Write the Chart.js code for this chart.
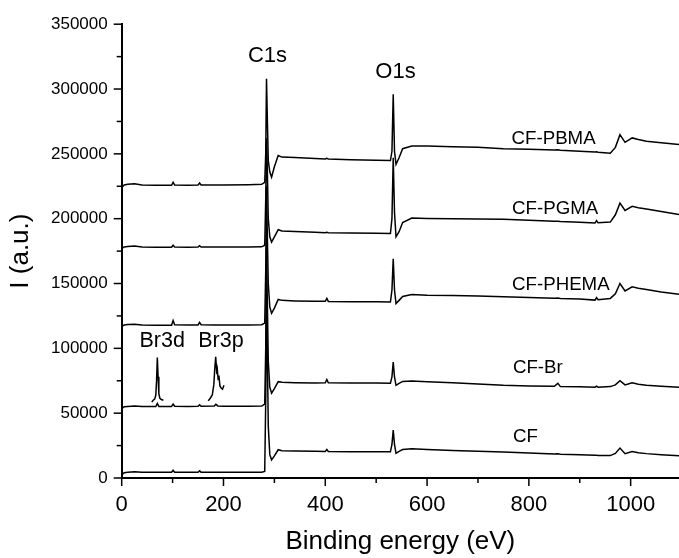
<!DOCTYPE html>
<html><head><meta charset="utf-8">
<script src="https://cdn.jsdelivr.net/npm/chart.js@4"></script>
<style>html,body{margin:0;padding:0;background:#fff}canvas{display:block}</style>
</head><body>
<canvas id="c" width="679" height="558" style="width:679px;height:558px"></canvas>
<script>
// Binding energy sampling (eV), shared by the five survey spectra
const energy = [0,5,12,25,40,67,70,73,98,101,
  104,130,150,153,156,182,185,189,200,250,
  275,281,283,284.5,286,288,291,294.5,300,307.5,
  315,340,380,400,403,406,450,500,528,531,
  533.5,536,539,545,552,570,600,650,700,750,
  800,850,857,862,900,930,933,936,960,970,
  979,989,1003,1015,1031,1060,1095];

const cfPBMA = [224000,226000,226500,227000,226000,225800,225800,225800,225800,228000,
  226000,225800,226000,227500,226000,226000,226000,226000,226000,226200,
  226500,228000,250000,308000,280000,245000,236000,232000,240000,248700,
  247500,247200,246500,246000,246500,246000,245500,245000,244800,252000,
  296000,252000,242000,247000,254000,256000,256000,255500,255000,254000,
  253500,253000,253200,252800,252000,251500,251600,251300,250500,255000,
  264800,258900,262300,261000,259700,258500,257200];

const cfPGMA = [177000,178200,178500,179000,178200,178000,178000,178000,178000,179500,
  178200,178000,178200,179200,178200,178200,178200,178200,178200,178200,
  178300,179500,215000,262000,240000,200000,186000,182000,186000,191500,
  190500,190200,189500,189200,189500,189100,189000,188700,188500,200000,
  247000,205000,186000,190000,197000,200500,200200,200000,199700,199500,
  198800,198000,198100,197800,197300,196600,198500,196800,197400,203000,
  212000,206400,209500,208500,207500,205500,203300];

const cfPHEMA = [117000,118000,118300,118500,118000,117900,117900,117900,117900,121500,
  118200,118000,118000,120000,118200,118000,118000,118000,118000,118000,
  118200,119500,160000,225000,190000,150000,132000,127000,131000,137700,
  137000,136600,136300,136300,138500,136200,136000,135900,135800,145000,
  169000,145000,134500,137000,140000,141500,141000,140700,140400,139700,
  139200,138700,138800,138400,138000,137200,139200,137500,138500,142000,
  150000,144300,147400,146400,145400,143500,141800];

const cfBr = [53500,55000,55200,55500,55100,55100,57500,55200,55200,57000,
  55300,55200,55300,56500,55300,55500,56800,55600,55400,55400,
  55500,57000,100000,180000,140000,90000,70000,65400,69000,74300,
  73800,73500,73300,73500,76000,73400,73300,73200,73100,78000,
  89500,78000,71500,73000,74500,74800,74300,73500,72500,71500,
  71000,70700,73000,70500,70300,70000,70800,70000,70500,71800,
  75100,71800,73500,72300,71500,70800,70000];

const cfPlain = [2500,4000,4500,4800,4500,4400,4500,4400,4400,6000,
  4500,4400,4400,5500,4500,4400,4400,4400,4400,4500,
  4400,5000,60000,140000,100000,40000,18000,14000,17000,21800,
  21000,20800,20600,20500,22000,20400,20300,20200,20200,26000,
  37000,26000,19000,20500,22000,22500,22000,21200,20600,20000,
  19300,18600,18700,18400,17900,17500,17600,17400,17300,19000,
  23100,18700,20500,19500,18800,18000,17200];

// Magnified Br insets drawn above the CF-Br spectrum
const br3dEnergy = [59,62,65,67,68.5,70,71.5,73,75,78,82];
const br3dValues = [58500,60000,61000,64000,75000,93000,78000,65000,61500,60500,60000];
const br3pEnergy = [170,174,178,181,183,184.7,186,187,188,189.5,191,193,195,198,201];
const br3pValues = [59500,61500,64000,72000,85000,93500,86000,80000,83000,76000,79000,71000,69500,68500,71500];

// Tick labels
const xTickValues = [0,200,400,600,800,1000];
const yTickValues = [0,50000,100000,150000,200000,250000,300000,350000];

const sampleNames = ['CF-PBMA','CF-PGMA','CF-PHEMA','CF-Br','CF'];
const peakNames = ['C1s','O1s','Br3d','Br3p'];

const FONT = '"Liberation Sans", Arial, Helvetica, sans-serif';

function pts(xs, ys){ return xs.map((x,i)=>({x:x, y:ys[i]})); }
function ds(data){ return {data:data, showLine:true, borderColor:'#000', borderWidth:1.5, pointRadius:0, fill:false, tension:0}; }

// annotation placement (data coordinates)
const textSpots = [
  {t:peakNames[0], x:286.4, y:320500, align:'center', size:22},
  {t:peakNames[1], x:538, y:308200, align:'center', size:22},
  {t:peakNames[2], x:79.5, y:101200, align:'center', size:21.5},
  {t:peakNames[3], x:195, y:101200, align:'center', size:21.5},
  {t:sampleNames[0], x:766, y:257700, align:'left', size:18.7},
  {t:sampleNames[1], x:767, y:203800, align:'left', size:18.7},
  {t:sampleNames[2], x:767, y:144800, align:'left', size:18.7},
  {t:sampleNames[3], x:768.7, y:80800, align:'left', size:18.7},
  {t:sampleNames[4], x:768.7, y:28150, align:'left', size:18.7}
];

const decor = {
  id:'decor',
  afterDraw(chart){
    const ctx = chart.ctx, xs = chart.scales.x, ys = chart.scales.y, a = chart.chartArea;
    ctx.save();
    ctx.strokeStyle = '#000';
    ctx.lineWidth = 1.5;
    for (let v = 0; v <= xs.max; v += 100) {
      const px = xs.getPixelForValue(v);
      const len = (v % 200 === 0) ? 8 : 5;
      ctx.beginPath(); ctx.moveTo(px, a.bottom); ctx.lineTo(px, a.bottom + len); ctx.stroke();
    }
    for (let v = 0; v <= ys.max; v += 25000) {
      const py = ys.getPixelForValue(v);
      const len = (v % 50000 === 0) ? 8 : 5;
      ctx.beginPath(); ctx.moveTo(a.left, py); ctx.lineTo(a.left - len, py); ctx.stroke();
    }
    ctx.fillStyle = '#000';
    ctx.textBaseline = 'alphabetic';
    textSpots.forEach(s => {
      ctx.font = s.size + 'px ' + FONT;
      ctx.textAlign = s.align;
      ctx.fillText(s.t, xs.getPixelForValue(s.x), ys.getPixelForValue(s.y));
    });
    // axis titles
    ctx.font = '26px ' + FONT;
    ctx.textAlign = 'center';
    ctx.fillText('Binding energy (eV)', (a.left + a.right) / 2, 549);
    ctx.save();
    ctx.translate(28, (a.top + a.bottom) / 2);
    ctx.rotate(-Math.PI / 2);
    ctx.fillText('I (a.u.)', 0, 0);
    ctx.restore();
    ctx.restore();
  }
};

new Chart(document.getElementById('c'), {
  type:'scatter',
  data:{ datasets:[
    ds(pts(energy, cfPBMA)),
    ds(pts(energy, cfPGMA)),
    ds(pts(energy, cfPHEMA)),
    ds(pts(energy, cfBr)),
    ds(pts(energy, cfPlain)),
    ds(pts(br3dEnergy, br3dValues)),
    ds(pts(br3pEnergy, br3pValues))
  ]},
  options:{
    responsive:false, animation:false, devicePixelRatio:1,
    layout:{padding:{top:22.7, right:0, bottom:0, left:0}},
    plugins:{legend:{display:false}, tooltip:{enabled:false}},
    scales:{
      x:{ type:'linear', min:0, max:1095,
        afterBuildTicks: s => { s.ticks = xTickValues.map(v => ({value:v})); },
        ticks:{ font:{family:FONT, size:22}, color:'#000', padding:14, maxRotation:0, autoSkip:false, callback: v => String(v) },
        grid:{ display:false, drawTicks:false },
        border:{ display:true, color:'#000', width:2 },
        afterFit: s => { s.height = 80; }
      },
      y:{ type:'linear', min:0, max:350000,
        afterBuildTicks: s => { s.ticks = yTickValues.map(v => ({value:v})); },
        ticks:{ font:{family:FONT, size:17}, color:'#000', padding:14, autoSkip:false, callback: v => String(v) },
        grid:{ display:false, drawTicks:false },
        border:{ display:true, color:'#000', width:2 },
        afterFit: s => { s.width = 121.7; }
      }
    }
  },
  plugins:[decor]
});
</script>
</body></html>
